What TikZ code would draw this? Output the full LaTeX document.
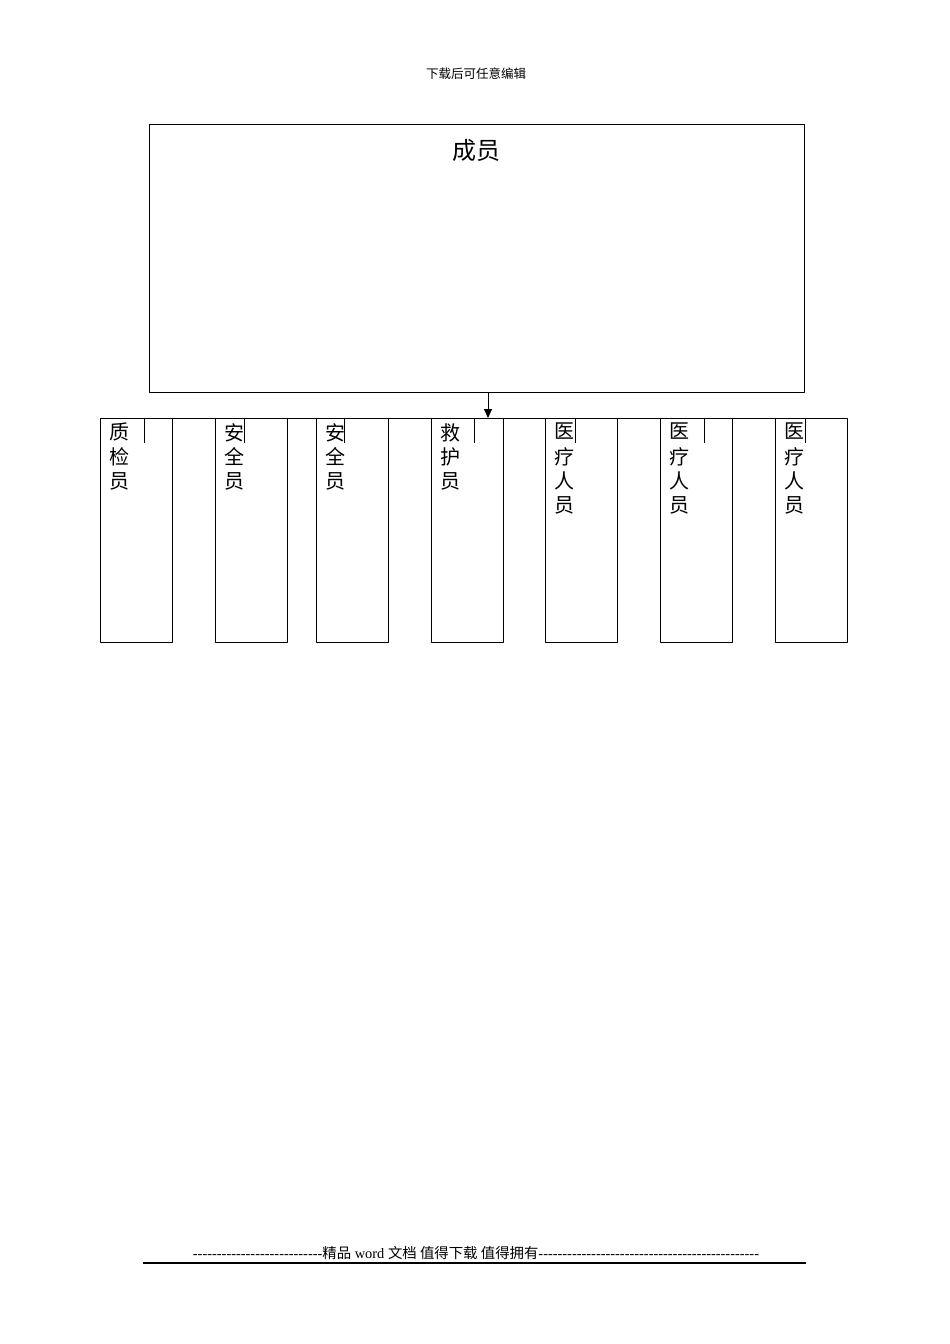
\documentclass[tikz,border=0pt]{standalone}
\usepackage{fontspec}
\setmainfont{Liberation Serif}
\newfontfamily\cjk{Noto Sans CJK SC}
\newfontfamily\footfont{Liberation Serif}
\usetikzlibrary{arrows.meta}

\begin{document}
\begin{tikzpicture}[x=1pt, y=-1pt, line join=bevel]
  % page in pixel units, y running down
  \tikzset{
    frame/.style={draw, line width=0.8pt},
    postbox/.style={frame, anchor=north west, inner sep=0pt,
      minimum width=72pt, minimum height=224pt},
    postchar/.style={anchor=north west, inner sep=0pt,
      font=\cjk\fontsize{20}{24}\selectfont},
  }
  \useasboundingbox (0,0) rectangle (950,1344);

  \node[font=\cjk\fontsize{12.5}{15}\selectfont] (head) at (476,74) {下载后可任意编辑};

  \node[frame, anchor=north west, inner sep=0pt,
    minimum width=655pt, minimum height=268pt] (main) at (149,124) {};
  \node[font=\cjk\fontsize{24}{28}\selectfont] (title) at (476,150) {成员};

  % bus line under the main box
  \coordinate (busL) at (144,418);
  \coordinate (busR) at (804,418);
  \coordinate (busin) at (488,418);
  \draw[frame] (busL) -- (busR);
  \draw[frame, -{Triangle[length=9pt, width=8pt]}] (main.south -| busin) -- (busin);

  \foreach \i/\x in {1/144, 2/244, 3/344, 4/474, 5/575, 6/704, 7/805}{
    \coordinate (t\i) at (\x,418);
    \draw[frame] (t\i) -- ++(0,25);
  }

  \foreach \i/\x/\txt in {
    1/100/{质,检,员},
    2/215/{安,全,员},
    3/316/{安,全,员},
    4/431/{救,护,员},
    5/545/{医,疗,人,员},
    6/660/{医,疗,人,员},
    7/775/{医,疗,人,员}}{
    \node[postbox] (box\i) at (\x,418) {};
    \foreach \c [count=\k from 0] in \txt
      \node[postchar] (lab\i-\k) at (\x+9,423+24.5*\k) {\c};
  }

  \node (foot) at (476,1253) {\footfont\fontsize{14.4}{17}\selectfont
    ---------------------------{\cjk 精品} word {\cjk 文档 值得下载 值得拥有}----------------------------------------------};
  \coordinate (footL) at (143,1263);
  \coordinate (footR) at (806,1263);
  \draw[line width=1.2pt] (footL) -- (footR);
\end{tikzpicture}
\end{document}
